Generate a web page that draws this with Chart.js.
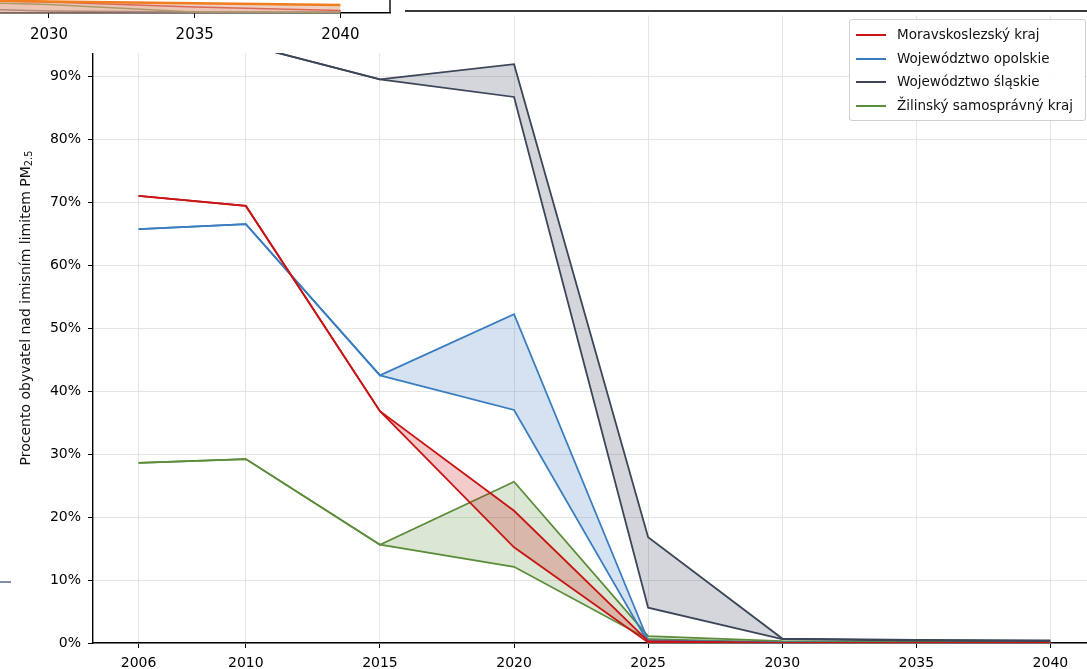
<!DOCTYPE html>
<html>
<head>
<meta charset="utf-8">
<script src="https://cdn.jsdelivr.net/npm/chart.js@4.4.1/dist/chart.umd.min.js"></script>
<style>
  html, body { margin: 0; padding: 0; background: #fff; overflow: hidden; }
  #wrap { position: relative; width: 1087px; height: 669px; overflow: hidden; font-family: "DejaVu Sans", sans-serif; }
  #main { position: absolute; left: 0; top: 0; }
  #inset { position: absolute; left: 0; top: 0; background: #fff; }
  #ylabel { position: absolute; left: 25px; top: 308px; transform: translate(-50%, -50%) rotate(-90deg); white-space: nowrap; font-size: 14px; color: #111; }
  #ylabel sub { font-size: 70%; vertical-align: -2px; line-height: 0; }
  #legend { position: absolute; left: 849px; top: 19px; width: 237px; height: 102px; box-sizing: border-box; border: 1px solid #d0d0d0; border-radius: 3px; background: rgba(255,255,255,0.9); }
  .item { position: absolute; left: 0; height: 20px; width: 100%; font-size: 13.5px; color: #111; }
  .item .swatch { position: absolute; left: 6px; top: 9px; width: 30px; height: 2px; }
  .item .txt { position: absolute; left: 47px; top: 1px; white-space: nowrap; }
  .frag { position: absolute; }
</style>
</head>
<body>
<div id="wrap">
  <canvas id="main" width="1096" height="669"></canvas>
  <canvas id="inset" width="400" height="53"></canvas>
  <div id="ylabel">Procento obyvatel nad imisním limitem PM<sub>2.5</sub></div>
  <div id="legend"></div>
  <div class="frag" style="left:405px;top:10px;width:690px;height:2px;background:#3a3a3a;"></div>
  <div class="frag" style="left:0;top:581px;width:11px;height:1.5px;background:#7d90a8;"></div>
</div>
<script>
// main chart data (percent of inhabitants)
const years = [2006, 2010, 2015, 2020, 2025, 2030, 2035, 2040];
const regions = ['Moravskoslezský kraj', 'Województwo opolskie', 'Województwo śląskie', 'Žilinský samosprávný kraj'];
const colors = ['#c81414', '#3a7dc0', '#3c4659', '#5b8c3a'];
const fills = ['rgba(200,20,20,0.22)', 'rgba(58,125,192,0.22)', 'rgba(60,70,89,0.22)', 'rgba(91,140,58,0.22)'];

const moravHigh = [71.0, 69.4, 36.8, 21.0, 0.3, 0.0, 0.0, 0.0];
const moravLow  = [71.0, 69.4, 36.8, 15.2, 0.1, 0.0, 0.0, 0.0];
const opolHigh  = [65.7, 66.5, 42.5, 52.2, 0.4, 0.1, 0.0, 0.0];
const opolLow   = [65.7, 66.5, 42.5, 37.0, 0.1, 0.0, 0.0, 0.0];
const slaskHigh = [96.5, 95.0, 89.5, 91.9, 16.8, 0.7, 0.5, 0.4];
const slaskLow  = [96.5, 95.0, 89.5, 86.7, 5.6, 0.6, 0.4, 0.3];
const zilHigh   = [28.6, 29.2, 15.6, 25.6, 1.1, 0.3, 0.2, 0.1];
const zilLow    = [28.6, 29.2, 15.6, 12.1, 0.6, 0.1, 0.0, 0.0];

const highs = [moravHigh, opolHigh, slaskHigh, zilHigh];
const lows = [moravLow, opolLow, slaskLow, zilLow];

const yTicks = [0, 10, 20, 30, 40, 50, 60, 70, 80, 90];

// partial neighbouring chart (only its bottom strip shows)
const insetYears = [2025, 2030, 2035, 2040];
const insetTicks = [2030, 2035, 2040];
const insetOrange = [14, 11.5, 9.7, 8];
const insetRed = [14, 11, 6, 2.5];
const insetGreen = [12, 8.5, 1, 0.5];
const insetGray = [5.5, 2, 1, 1];

const pts = (xs, ys) => xs.map((x, i) => ({ x: x, y: ys[i] }));

const datasets = [];
regions.forEach((name, i) => {
  datasets.push({
    label: name,
    data: pts(years, highs[i]),
    borderColor: colors[i],
    borderWidth: 1.8,
    pointRadius: 0,
    fill: false,
    order: i * 2
  });
  datasets.push({
    label: name + ' (low)',
    data: pts(years, lows[i]),
    borderColor: colors[i],
    backgroundColor: fills[i],
    borderWidth: 1.8,
    pointRadius: 0,
    fill: '-1',
    order: i * 2 + 1
  });
});

const tickFont = { family: 'DejaVu Sans', size: 14 };

new Chart(document.getElementById('main').getContext('2d'), {
  type: 'line',
  data: { datasets: datasets },
  options: {
    responsive: false,
    animation: false,
    layout: { padding: { top: 10, right: 0, left: 0, bottom: 0 } },
    plugins: { legend: { display: false }, tooltip: { enabled: false } },
    scales: {
      x: {
        type: 'linear',
        min: 2004.3,
        max: 2041.7,
        afterBuildTicks: s => { s.ticks = years.map(v => ({ value: v })); },
        afterFit: s => { s.height = 26; },
        ticks: { color: '#000', font: tickFont, padding: 7, maxRotation: 0, callback: v => String(v) },
        grid: { color: '#e5e5e5', tickColor: '#000', tickLength: 5, lineWidth: 1 },
        border: { color: '#000', width: 1.4 }
      },
      y: {
        min: 0,
        max: 99.65,
        afterBuildTicks: s => { s.ticks = yTicks.map(v => ({ value: v })); },
        afterFit: s => { s.width = 93; },
        ticks: { color: '#000', font: tickFont, padding: 7, callback: v => v + '%' },
        grid: { color: '#e5e5e5', tickColor: '#000', tickLength: 5, lineWidth: 1 },
        border: { color: '#000', width: 1.4 }
      }
    }
  }
});

// legend
const legendBox = document.getElementById('legend');
regions.forEach((name, i) => {
  const item = document.createElement('div');
  item.className = 'item';
  item.style.top = (5 + i * 23.6) + 'px';
  item.innerHTML = '<span class="swatch" style="background:' + colors[i] + '"></span><span class="txt">' + name + '</span>';
  legendBox.appendChild(item);
});

// right frame of the partial chart
const frame = {
  id: 'frame',
  afterDraw(chart) {
    const a = chart.chartArea, c = chart.ctx;
    c.save();
    c.strokeStyle = '#000';
    c.lineWidth = 1.4;
    c.beginPath();
    c.moveTo(a.right, a.top);
    c.lineTo(a.right, a.bottom);
    c.stroke();
    c.restore();
  }
};

new Chart(document.getElementById('inset').getContext('2d'), {
  type: 'line',
  data: {
    datasets: [
      { data: pts(insetYears, insetOrange), borderColor: '#f07d1e', borderWidth: 2.5, pointRadius: 0, fill: 'origin', backgroundColor: 'rgba(225,170,140,0.55)' },
      { data: pts(insetYears, insetRed), borderColor: '#d01818', borderWidth: 1.5, pointRadius: 0, fill: 'origin', backgroundColor: 'rgba(220,80,80,0.15)' },
      { data: pts(insetYears, insetGreen), borderColor: '#5b8c3a', borderWidth: 1.5, pointRadius: 0, fill: false },
      { data: pts(insetYears, insetGray), borderColor: '#56657c', borderWidth: 1.5, pointRadius: 0, fill: false }
    ]
  },
  plugins: [frame],
  options: {
    responsive: false,
    animation: false,
    layout: { padding: { top: 0, right: 10, left: 0, bottom: 0 } },
    plugins: { legend: { display: false }, tooltip: { enabled: false } },
    scales: {
      x: {
        type: 'linear',
        min: 2028.32,
        max: 2041.7,
        afterBuildTicks: s => { s.ticks = insetTicks.map(v => ({ value: v })); },
        afterFit: s => { s.height = 40; },
        ticks: { color: '#000', font: { family: 'DejaVu Sans', size: 15 }, padding: 8, maxRotation: 0, callback: v => String(v) },
        grid: { drawOnChartArea: false, tickColor: '#000', tickLength: 5 },
        border: { color: '#000', width: 1.4 }
      },
      y: { display: false, min: 0, max: 13 }
    }
  }
});
</script>
</body>
</html>
